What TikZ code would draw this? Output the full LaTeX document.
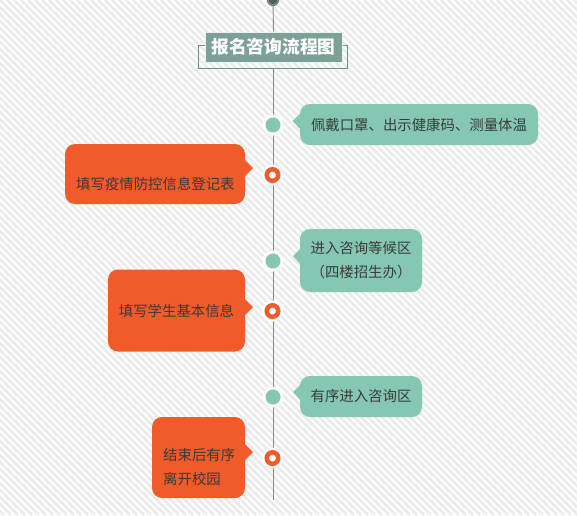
\documentclass[tikz,border=0pt]{standalone}
\usepackage{fontspec}
\newfontfamily\cjk{Noto Sans CJK SC}
\definecolor{tealc}{HTML}{85C7B3}
\definecolor{orangec}{HTML}{F15A29}
\definecolor{titlec}{HTML}{7DA198}
\definecolor{framec}{HTML}{6E9189}
\definecolor{linec}{HTML}{8A8A8A}
\definecolor{txtc}{HTML}{3A3A3A}
\definecolor{stripec}{HTML}{EBEBEB}
\tikzset{
  bubbleT/.style={fill=tealc, rounded corners=10pt, inner sep=0pt, text=txtc, font=\cjk\fontsize{14.4}{24}\selectfont, align=center},
  bubbleO/.style={fill=orangec, rounded corners=10pt, inner sep=0pt, text=txtc, font=\cjk\fontsize{14.4}{24}\selectfont},
  tdot/.style={circle, fill=tealc, minimum size=15pt, inner sep=0pt},
  odot/.style={circle, draw=orangec, line width=4.5pt, fill=white, minimum size=11.5pt, inner sep=0pt},
  halo/.style={circle, fill=white, minimum size=21pt, inner sep=0pt},
}
\begin{document}
\begin{tikzpicture}[x=1pt,y=-1pt]
\useasboundingbox (0,0) rectangle (577,515);
\fill[white] (0,0) rectangle (577,515);
\begin{scope}
\clip (0,0) rectangle (577,515);
\foreach \c in {-518,-511,...,580} {
  \draw[stripec, line width=2.6pt] (\c,0) -- ({\c+515},515);
}
\end{scope}

% timeline
\coordinate (top) at (273,0);
\coordinate (bottom) at (273,500);
\draw[framec, line width=0.8pt] (198,45) rectangle (347,68);
\node[fill=titlec, draw=white!85!titlec, line width=0.8pt, minimum width=137pt, minimum height=30pt, inner sep=0pt, text=white, font=\cjk\bfseries\fontsize{17.7}{20}\selectfont] (title) at (273.5,47) {报名咨询流程图};
\draw[linec, line width=0.9pt] (top) -- (title.north);
\draw[linec, line width=0.9pt] (273,68) -- (bottom);
\fill[linec!70!black] (top) circle (6pt);
\draw[linec, line width=1.2pt, fill=titlec!60!black] (top) circle (5pt);

% dots
\foreach \n/\y in {d1/125, d3/261, d5/397} {
  \node[halo] at (273,\y) {};
  \node[tdot] (\n) at (273,\y) {};
}
\foreach \n/\y in {d2/175, d4/311, d6/458} {
  \node[halo] at (272.5,\y) {};
  \node[odot] (\n) at (272.5,\y) {};
}

% teal bubbles
\node[bubbleT, minimum width=238pt, minimum height=41pt] (b1) at (419,124.5) {佩戴口罩、出示健康码、测量体温};
\fill[tealc] (302,112) -- (292.5,121) -- (302,131) -- cycle;

\node[bubbleT, minimum width=122pt, minimum height=63pt] (b3) at (361,260.5) {进入咨询等候区\\（四楼招生办）};
\fill[tealc] (302,247) -- (293,256) -- (302,266) -- cycle;

\node[bubbleT, minimum width=122pt, minimum height=41pt] (b5) at (361,396.5) {有序进入咨询区};
\fill[tealc] (302,383) -- (293,392) -- (302,402) -- cycle;

% orange bubbles
\node[bubbleO, minimum width=180pt, minimum height=60pt] (b2) at (155,174) {};
\node[anchor=west, text=txtc, font=\cjk\fontsize{14.4}{24}\selectfont, inner sep=0pt] (t2) at (76,183.5) {填写疫情防控信息登记表};
\fill[orangec] (243,158) -- (253,168) -- (243,178) -- cycle;

\node[bubbleO, minimum width=137pt, minimum height=82pt] (b4) at (176.5,310.5) {填写学生基本信息};
\fill[orangec] (243,297) -- (253,307) -- (243,317) -- cycle;

\node[bubbleO, minimum width=93pt, minimum height=81pt] (b6) at (198.5,457.5) {};
\node[anchor=west, text=txtc, font=\cjk\fontsize{14.4}{24}\selectfont, inner sep=0pt, align=left] (t6) at (163,467) {结束后有序\\离开校园};
\fill[orangec] (243,442) -- (253,452) -- (243,462) -- cycle;
\end{tikzpicture}
\end{document}
